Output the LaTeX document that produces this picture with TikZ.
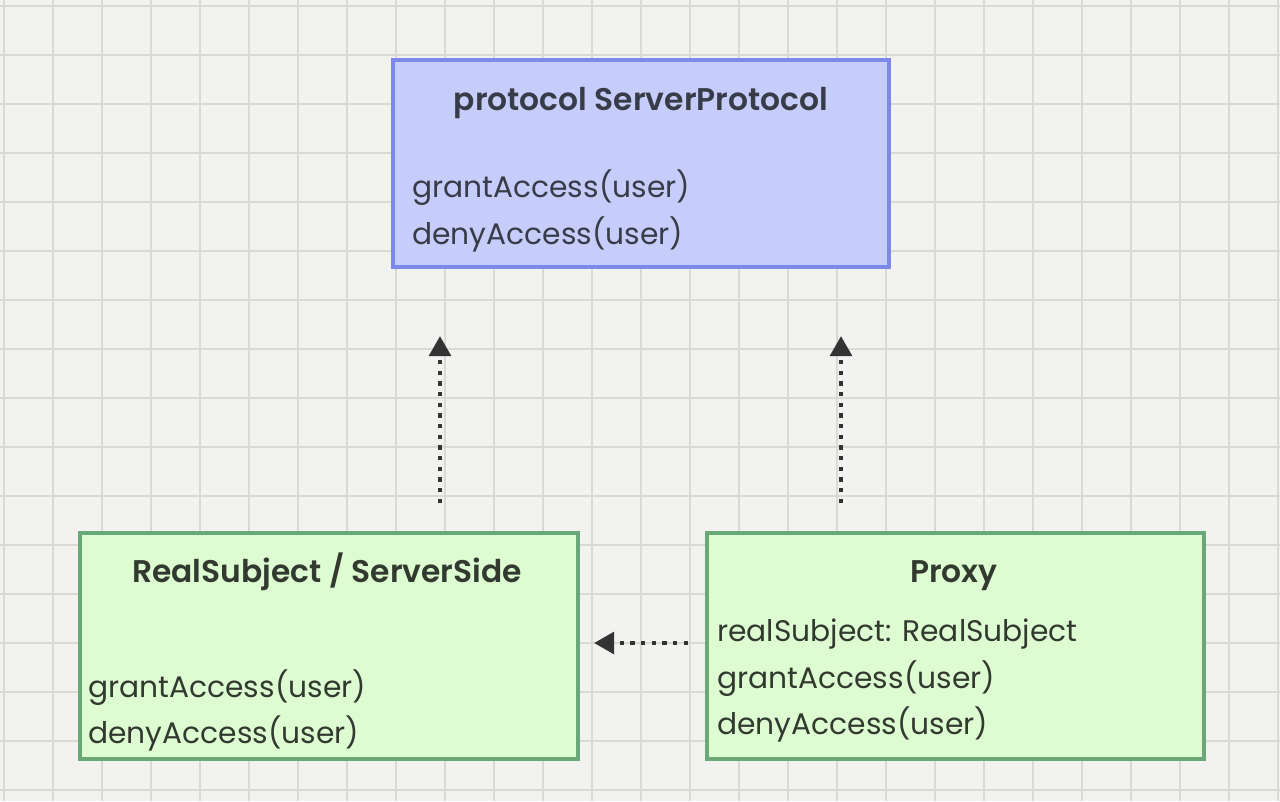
\documentclass[tikz,border=0pt]{standalone}
\usepackage{fontspec}
\setmainfont{Poppins}[BoldFont={Poppins SemiBold}]
\usetikzlibrary{arrows.meta}
\definecolor{paper}{HTML}{F2F2F0}
\definecolor{gridc}{HTML}{D9D9D6}
\definecolor{bluefill}{HTML}{C7CDFA}
\definecolor{bluedraw}{HTML}{7C88EA}
\definecolor{greenfill}{HTML}{DEFCD2}
\definecolor{greendraw}{HTML}{6AA878}
\definecolor{txtblue}{HTML}{383C48}
\definecolor{txtgreen}{HTML}{323A30}
\definecolor{arrowc}{HTML}{333333}
\tikzset{
  boxbase/.style={rectangle, line width=3pt, inner sep=0pt, anchor=north west},
  bluebox/.style={boxbase, fill=bluefill, draw=bluedraw},
  greenbox/.style={boxbase, fill=greenfill, draw=greendraw},
  title/.style={anchor=base, inner sep=0pt, font=\fontsize{23.5pt}{27pt}\selectfont\bfseries},
  member/.style={anchor=base west, inner sep=0pt, font=\fontsize{22.3pt}{26pt}\selectfont},
  realizes/.style={arrowc, line width=3.4pt, dash pattern=on 3.2pt off 4.8pt,
     -{Triangle[width=16pt,length=15pt]}},
}
\begin{document}
\begin{tikzpicture}[x=0.75pt,y=-0.75pt]
\useasboundingbox (0,0) rectangle (1280,801);
\fill[paper] (0,0) rectangle (1280,801);
\foreach \i in {0,...,26} \draw[gridc, line width=1.1pt] (4+49*\i,0) -- (4+49*\i,801);
\foreach \j in {0,...,16} \draw[gridc, line width=1.1pt] (0,6+49*\j) -- (1280,6+49*\j);

\node[bluebox, minimum width=496*0.75pt, minimum height=207*0.75pt] (proto) at (391,58) {};
\node[greenbox, minimum width=498*0.75pt, minimum height=226*0.75pt] (real) at (78,531) {};
\node[greenbox, minimum width=497*0.75pt, minimum height=226*0.75pt] (proxy) at (705,531) {};

\node[title, txtblue] (protoT) at (641,110) {protocol ServerProtocol};
\node[member, txtblue] (protoM1) at (412,197) {grantAccess(user)};
\node[member, txtblue] (protoM2) at (412,244) {denyAccess(user)};

\node[title, txtgreen] (realT) at (327,582) {RealSubject / ServerSide};
\node[member, txtgreen] (realM1) at (88,697) {grantAccess(user)};
\node[member, txtgreen] (realM2) at (88,743) {denyAccess(user)};

\node[title, txtgreen] (proxyT) at (954,582) {Proxy};
\node[member, txtgreen] (proxyM0) at (717,641) {realSubject: RealSubject};
\node[member, txtgreen] (proxyM1) at (717,688) {grantAccess(user)};
\node[member, txtgreen] (proxyM2) at (717,734) {denyAccess(user)};

\coordinate (a1s) at (440,503);
\coordinate (a1e) at (440,336);
\coordinate (a2s) at (841,503);
\coordinate (a2e) at (841,336);
\coordinate (a3s) at (688,643);
\coordinate (a3e) at (594,643);
\draw[realizes] (a1s) -- (a1e);
\draw[realizes] (a2s) -- (a2e);
\draw[realizes] (a3s) -- (a3e);
\end{tikzpicture}
\end{document}
